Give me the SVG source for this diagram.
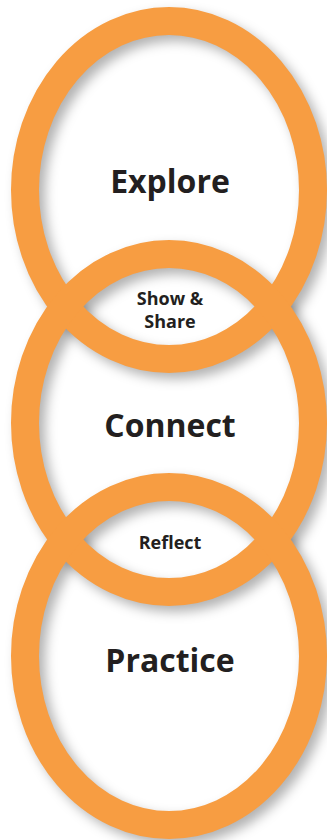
<svg xmlns="http://www.w3.org/2000/svg" width="327" height="840" viewBox="0 0 327 840">
<defs>
<filter id="blur" x="-20%" y="-20%" width="140%" height="140%"><feGaussianBlur stdDeviation="6"/></filter>
<style>
.ring{fill:none;stroke:#F79D42;stroke-width:28}
.shadow{fill:none;stroke:#000;stroke-opacity:0.3;stroke-width:28}
.big{font-family:"Open Sans","Liberation Sans",sans-serif;font-weight:bold;font-size:32px;fill:#231F20;text-anchor:middle}
.small{font-family:"Open Sans","Liberation Sans",sans-serif;font-weight:bold;font-size:18px;fill:#231F20;text-anchor:middle}
</style>
</defs>
<rect width="327" height="840" fill="#fff"/>
<g id="shadows" filter="url(#blur)">
<ellipse class="shadow" cx="175" cy="196" rx="144" ry="169"/>
<ellipse class="shadow" cx="175" cy="429" rx="144" ry="169"/>
<ellipse class="shadow" cx="175" cy="662" rx="144" ry="169"/>
</g>
<g id="explore">
<ellipse class="ring" cx="169" cy="190" rx="144" ry="169"/>
<text class="big" x="170" y="193">Explore</text>
</g>
<g id="connect">
<ellipse class="ring" cx="169" cy="423" rx="144" ry="169"/>
<text class="big" x="170" y="437">Connect</text>
</g>
<g id="practice">
<ellipse class="ring" cx="169" cy="656" rx="144" ry="169"/>
<text class="big" x="170" y="672">Practice</text>
</g>
<g id="show-share">
<text class="small" x="170" y="305">Show &amp;</text>
<text class="small" x="170" y="328">Share</text>
</g>
<g id="reflect">
<text class="small" x="170" y="549">Reflect</text>
</g>
<g id="connectors"/>
</svg>
